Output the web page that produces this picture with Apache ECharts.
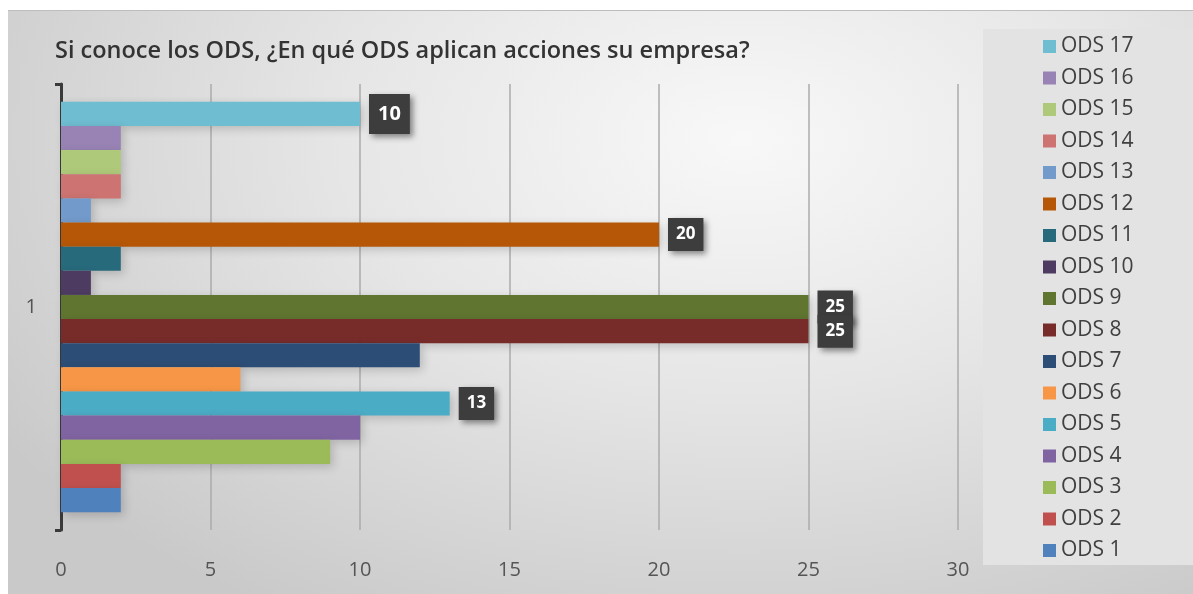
<!DOCTYPE html>
<html>
<head>
<meta charset="utf-8">
<script src="https://cdn.jsdelivr.net/npm/echarts@6/dist/echarts.min.js"></script>
<style>
html,body{margin:0;padding:0;background:#ffffff;width:1193px;height:594px;overflow:hidden;}
#chart{position:absolute;left:8px;top:10px;width:1185px;height:584px;
background:radial-gradient(ellipse 75% 95% at 62% 22%, #f8f8f8 0%, #e6e6e6 45%, #c9c9c9 100%);
border-top:1px solid #bdbdbd;box-sizing:border-box;}
</style>
</head>
<body>
<div id="chart"></div>
<script>
const categories = ['1'];
const seriesNames = ['ODS 1','ODS 2','ODS 3','ODS 4','ODS 5','ODS 6','ODS 7','ODS 8','ODS 9','ODS 10','ODS 11','ODS 12','ODS 13','ODS 14','ODS 15','ODS 16','ODS 17'];
const seriesValues = [2, 2, 9, 10, 13, 6, 12, 25, 25, 1, 2, 20, 1, 2, 2, 2, 10];
const seriesColors = ['#4F81BD','#C0504D','#9BBB59','#8064A2','#4BACC6','#F79646','#2C4D75','#772C2A','#5F7530','#4D3B62','#276A7C','#B65708','#729ACA','#CD7371','#AFC97A','#9983B5','#6FBDD1'];
const labelledSeries = ['ODS 5','ODS 8','ODS 9','ODS 12','ODS 17'];
const xTicks = [0, 5, 10, 15, 20, 25, 30];

const FONT = '"Open Sans", "Noto Sans", sans-serif';
const chart = echarts.init(document.getElementById('chart'), null, {renderer:'canvas'});

// ECharts draws the first series of a horizontal group at the top, so feed ODS 17 first.
const order = seriesNames.map((_, i) => i).reverse();
const series = order.map(i => {
  const name = seriesNames[i];
  const big = name === 'ODS 17';
  return {
    name: name,
    type: 'bar',
    data: [seriesValues[i]],
    barGap: '0%',
    barCategoryGap: '8%',
    itemStyle: {color: seriesColors[i], shadowBlur: 10, shadowColor: 'rgba(0,0,0,0.18)', shadowOffsetX: 3, shadowOffsetY: 3},
    label: {
      show: labelledSeries.indexOf(name) >= 0,
      position: 'right',
      distance: 9,
      formatter: '{c}',
      color: '#ffffff',
      fontWeight: 'bold',
      fontFamily: FONT,
      fontSize: big ? 20 : 17,
      lineHeight: big ? 22 : 19,
      backgroundColor: '#3d3d3d',
      padding: big ? [9, 9, 9, 9] : [7, 8, 7, 8],
      shadowBlur: 6,
      shadowColor: 'rgba(0,0,0,0.45)',
      shadowOffsetX: 3,
      shadowOffsetY: 3
    },
    z: 2
  };
});

chart.setOption({
  animation: false,
  title: {
    text: 'Si conoce los ODS, ¿En qué ODS aplican acciones su empresa?',
    left: 47, top: 28, padding: 0,
    textStyle: {fontFamily: FONT, fontSize: 23.5, fontWeight: 600, color: '#333333'}
  },
  graphic: [{
    type: 'rect', left: 975, top: 18, z: -1,
    shape: {width: 210, height: 536},
    style: {fill: '#e3e3e3'}
  }],
  legend: {
    orient: 'vertical',
    left: 1030, top: 20,
    itemWidth: 13, itemHeight: 13,
    itemGap: 10.5,
    icon: 'rect',
    data: seriesNames.slice().reverse(),
    textStyle: {fontFamily: FONT, fontSize: 21, color: '#404040', lineHeight: 20}
  },
  grid: {left: 53, right: 235, top: 73, bottom: 64, containLabel: false},
  xAxis: {
    type: 'value', min: xTicks[0], max: xTicks[xTicks.length-1], interval: 5,
    axisLine: {show: false}, axisTick: {show: false},
    axisLabel: {margin: 30, fontFamily: FONT, fontSize: 20, color: '#555555'},
    splitLine: {show: true, lineStyle: {color: '#ababab', width: 1.5}}
  },
  yAxis: {
    type: 'category', data: categories,
    axisLine: {show: true, lineStyle: {color: '#3a3a3a', width: 3}},
    axisTick: {show: true, length: 6, lineStyle: {color: '#3a3a3a', width: 3}},
    axisLabel: {margin: 24, fontFamily: FONT, fontSize: 20, color: '#555555'}
  },
  series: series
});
</script>
</body>
</html>
